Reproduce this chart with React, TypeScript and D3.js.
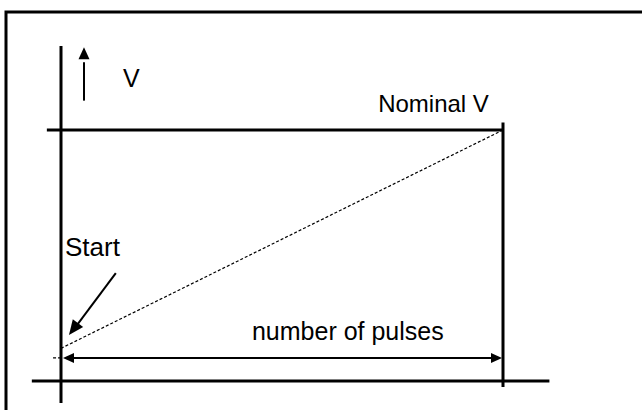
import React from "react";
import * as d3 from "d3";

// pulse count is normalised: 0 = first pulse, 1 = last pulse
const rampPulses = [0, 1];
// voltage normalised: 0 = axis, 1 = nominal V
const rampVoltage = [0.13, 1];
const nominalV = 1;
const pulseArrowLevel = 0.092;
const axisXRange = [-0.066, 1.105];
const axisYRange = [-0.088, 1.335];

const labels = {
  v: "V",
  nominal: "Nominal V",
  start: "Start",
  pulses: "number of pulses",
};

const W = 642;
const H = 410;

const App = () => {
  const x = d3.scaleLinear().domain([0, 1]).range([61, 503]);
  const y = d3.scaleLinear().domain([0, 1]).range([381, 130]);

  const line = d3
    .line<[number, number]>()
    .x((d) => x(d[0]))
    .y((d) => y(d[1]));

  const ramp: [number, number][] = rampPulses.map((p, i) => [p, rampVoltage[i]]);

  const font = "'Liberation Sans', Arial, sans-serif";

  // arrowhead polygon pointing from (x1,y1) to tip (x2,y2)
  const head = (x1: number, y1: number, x2: number, y2: number, len = 12, half = 5) => {
    const a = Math.atan2(y2 - y1, x2 - x1);
    const bx = x2 - len * Math.cos(a);
    const by = y2 - len * Math.sin(a);
    const px = -Math.sin(a) * half;
    const py = Math.cos(a) * half;
    return `${x2},${y2} ${bx + px},${by + py} ${bx - px},${by - py}`;
  };

  const arrowY = y(pulseArrowLevel);
  const upX = x(0.052);
  const startFrom: [number, number] = [x(0.124), y(0.43)];
  const startTo: [number, number] = [x(0.018), y(0.183)];

  return (
    <svg
      width={W}
      height={H}
      style={{ position: "absolute", left: 0, top: 0, background: "#fff" }}
    >
      {/* outer frame */}
      <path d={`M6,${H}V12H${W}`} fill="none" stroke="#000" strokeWidth={3} />

      {/* axes */}
      <line x1={x(axisXRange[0])} x2={x(axisXRange[1])} y1={y(0)} y2={y(0)} stroke="#000" strokeWidth={3} />
      <line x1={x(0)} x2={x(0)} y1={y(axisYRange[0])} y2={y(axisYRange[1])} stroke="#000" strokeWidth={3} />

      {/* nominal level + end of pulses */}
      <line x1={x(-0.032)} x2={x(1)} y1={y(nominalV)} y2={y(nominalV)} stroke="#000" strokeWidth={3} />
      <line x1={x(1)} x2={x(1)} y1={y(1.03)} y2={y(-0.024)} stroke="#000" strokeWidth={3} />

      {/* voltage ramp */}
      <path d={line(ramp) ?? ""} fill="none" stroke="#000" strokeWidth={1.2} strokeDasharray="3,2" />
      <line x1={x(-0.018)} x2={x(0)} y1={arrowY} y2={arrowY} stroke="#000" strokeWidth={1.2} strokeDasharray="3,2" />

      {/* number of pulses double arrow */}
      <line x1={x(0) + 8} x2={x(1) - 8} y1={arrowY} y2={arrowY} stroke="#000" strokeWidth={2} />
      <polygon points={head(x(1) - 20, arrowY, x(1) - 1, arrowY, 11, 5)} fill="#000" />
      <polygon points={head(x(0) + 20, arrowY, x(0) + 2, arrowY, 11, 5)} fill="#000" />

      {/* V up arrow */}
      <line x1={upX} x2={upX} y1={y(1.117)} y2={y(1.27)} stroke="#000" strokeWidth={2} />
      <polygon points={head(upX, y(1.117), upX, y(1.33), 12, 5.5)} fill="#000" />

      {/* start arrow */}
      <line x1={startFrom[0]} y1={startFrom[1]} x2={startTo[0] + 5} y2={startTo[1] - 6} stroke="#000" strokeWidth={2} />
      <polygon points={head(startFrom[0], startFrom[1], startTo[0], startTo[1], 15, 6.5)} fill="#000" />

      {/* labels */}
      <g fontFamily={font} fontSize={25} fill="#000">
        <text x={x(0.14)} y={y(1.17)}>{labels.v}</text>
        <text x={x(0.968)} y={y(1.072)} textAnchor="end" fontSize={24}>{labels.nominal}</text>
        <text x={x(0.009)} y={y(0.498)} fontSize={26}>{labels.start}</text>
        <text x={x(0.649)} y={y(0.163)} textAnchor="middle">{labels.pulses}</text>
      </g>
    </svg>
  );
};

export default App;
